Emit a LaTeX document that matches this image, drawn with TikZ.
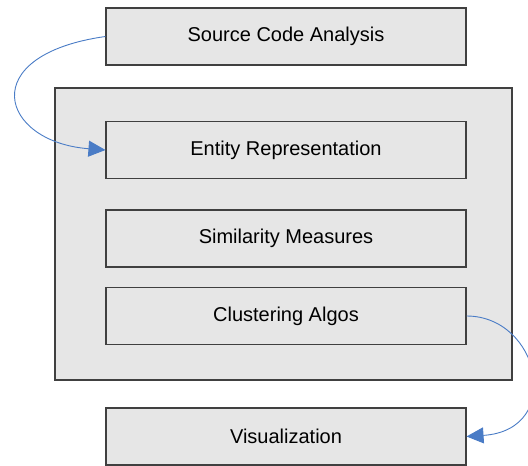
\documentclass[tikz,border=0pt]{standalone}
\usepackage{fontspec}
\setmainfont{Liberation Sans}
\usetikzlibrary{arrows.meta}
\definecolor{boxfill}{HTML}{E6E6E6}
\definecolor{boxline}{HTML}{404040}
\definecolor{flow}{HTML}{4A7CC6}
\tikzset{
  stage/.style={draw=boxline, fill=boxfill, line width=1.1pt, minimum width=360pt,
    minimum height=57pt, inner sep=0pt, font=\fontsize{20}{24}\selectfont},
  group/.style={draw=boxline, fill=boxfill, line width=1.1pt},
  link/.style={draw=flow, line width=0.9pt, -{Triangle[length=17pt,width=16pt]}}
}
\begin{document}
\begin{tikzpicture}[x=1pt, y=-1pt]
\useasboundingbox (0,0) rectangle (528,466);
\clip (0,0) rectangle (528,466);
% enclosing group for the three core stages
\draw[group] (55,88) rectangle (512,380);
\node[stage] (src) at (286,36.5) {Source Code Analysis};
\node[stage] (ent) at (286,150) {Entity Representation};
\node[stage] (sim) at (286,238.5) {Similarity Measures};
\node[stage] (clu) at (286,316) {Clustering Algos};
\node[stage] (vis) at (286,436.5) {Visualization};
% flow connectors
\draw[link] (src.west) .. controls (-26,55) and (0,142) .. (ent.west);
\draw[link] (clu.east) .. controls (540,316) and (565,430) .. (vis.east);
\end{tikzpicture}
\end{document}
